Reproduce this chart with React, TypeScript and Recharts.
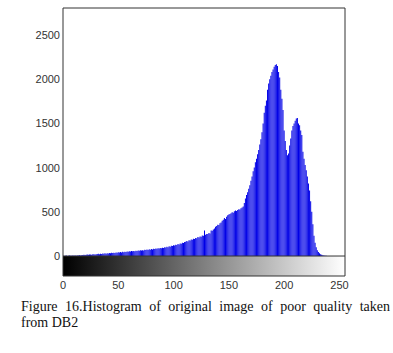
import { Bar, BarChart, ReferenceArea, ReferenceLine, XAxis, YAxis } from "recharts";

// histogram counts per gray level (0..255)
const shadowCounts = [
  3, 0, 2, 5, 1, 4, 6, 3, 2, 5, 4, 7, 3, 6, 5, 8, 6, 9, 12, 14, 11, 15, 17, 13, 16, 18, 15, 19, 21, 17, 20,
]; // 0-30
const lowCounts = [
  22, 25, 21, 27, 24, 28, 26, 30, 27, 32, 29, 34, 31, 36, 33, 38, 35, 40, 37, 42,
  41, 45, 39, 47, 44, 49, 46, 52, 48, 54, 50, 56, 53, 58, 55, 60, 57, 62, 59, 64,
  61, 66, 63, 70, 67, 73, 69, 76, 72, 79, 75, 82, 78, 85, 81, 88, 84, 91, 87, 94,
]; // 31-90
const midCounts = [
  92, 99, 96, 104, 100, 110, 106, 116, 112, 121, 118, 128, 124, 135, 130, 142, 138, 150, 146, 158,
  160, 170, 165, 178, 175, 188, 183, 196, 192, 205, 200, 214, 210, 222, 218, 232, 228, 290, 240, 248,
  248, 260, 255, 290, 285, 300, 310, 330, 340, 355, 350, 370, 380, 400, 410, 430, 420, 445, 460, 470,
  475, 485, 495, 490, 505, 515, 510, 520, 530, 525, 540, 550, 560, 600, 650,
]; // 91-165
const peakCounts = [
  690, 720, 760, 800, 850, 900, 960, 1000, 1060, 1100, 1150, 1200, 1260, 1320, 1400,
  1500, 1620, 1700, 1760, 1880, 1950, 2000, 2040, 2080, 2110, 2140, 2160, 2170,
  2150, 2080, 2020, 1880, 1780, 1650, 1420, 1300, 1200, 1140, 1160,
  1250, 1330, 1420, 1470, 1500, 1530, 1555, 1560, 1500, 1480, 1420, 1370,
]; // 166-216
const tailCounts = [
  1180, 1100, 1030, 970, 900, 820, 740, 620, 500, 360, 230, 150, 100, 65, 45, 30, 20, 14, 9, 6, 4, 2, 1, 0,
  0, 0, 0, 0, 0, 0, 0, 0, 0, 0, 0, 0, 0, 0, 0,
]; // 217-255

const counts = [...shadowCounts, ...lowCounts, ...midCounts, ...peakCounts, ...tailCounts];
const data = counts.map((count, level) => ({ level, count }));

const xTicks = [0, 50, 100, 150, 200, 250];
const yTicks = [0, 500, 1000, 1500, 2000, 2500];
const yDomain: [number, number] = [-226, 2805];

const font = '"Liberation Sans", Arial, sans-serif';
const frame = "#333";
const tickStyle = { fontSize: 11, fill: "#333", fontFamily: font };

export default function App() {
  return (
    <div style={{ position: "relative", width: 393, height: 353, background: "#fff" }}>
      <style>{"body{margin:0}"}</style>
      <BarChart
        width={393}
        height={300}
        data={data}
        margin={{ top: 8, right: 48, bottom: 0, left: 3 }}
        barCategoryGap={0}
      >
        <defs>
          <linearGradient id="grayRamp" x1="0" y1="0" x2="1" y2="0">
            <stop offset="0%" stopColor="#000" />
            <stop offset="100%" stopColor="#fff" />
          </linearGradient>
        </defs>
        <XAxis
          xAxisId="b"
          dataKey="level"
          type="number"
          domain={[0, 255]}
          allowDataOverflow
          ticks={xTicks}
          height={24}
          tickLine={false}
          tickSize={0}
          tickMargin={5}
          axisLine={{ stroke: frame }}
          tick={tickStyle}
        />
        <XAxis
          xAxisId="t"
          dataKey="level"
          type="number"
          orientation="top"
          mirror
          domain={[0, 255]}
          allowDataOverflow
          ticks={xTicks}
          height={1}
          tickSize={4}
          tick={false}
          stroke={frame}
        />
        <YAxis
          yAxisId="l"
          type="number"
          domain={yDomain}
          allowDataOverflow
          ticks={yTicks}
          width={60}
          tickLine={false}
          tickSize={0}
          tickMargin={3}
          axisLine={{ stroke: frame }}
          tick={tickStyle}
        />
        <YAxis
          yAxisId="li"
          type="number"
          orientation="left"
          mirror
          domain={yDomain}
          allowDataOverflow
          ticks={yTicks}
          width={1}
          tickSize={4}
          tick={false}
          axisLine={false}
          stroke={frame}
        />
        <YAxis
          yAxisId="r"
          type="number"
          orientation="right"
          mirror
          domain={yDomain}
          allowDataOverflow
          ticks={yTicks}
          width={1}
          tickSize={4}
          tick={false}
          stroke={frame}
        />
        <ReferenceArea
          xAxisId="b"
          yAxisId="l"
          x1={0}
          x2={255}
          y1={yDomain[0]}
          y2={0}
          fill="url(#grayRamp)"
          fillOpacity={1}
          stroke="none"
        />
        <ReferenceLine xAxisId="b" yAxisId="l" y={0} stroke={frame} />
        <Bar
          xAxisId="b"
          yAxisId="l"
          dataKey="count"
          fill="#0000e6"
          barSize={1}
          isAnimationActive={false}
        />
      </BarChart>
      <div
        style={{
          position: "absolute",
          left: 21,
          top: 299,
          width: 369,
          fontFamily: '"Liberation Serif", "Times New Roman", serif',
          fontSize: 14,
          lineHeight: "16px",
          color: "#111",
        }}
      >
        <div style={{ textAlign: "justify", textAlignLast: "justify", whiteSpace: "nowrap" as const }}>
          Figure&nbsp; 16.Histogram&nbsp; of&nbsp; original&nbsp; image&nbsp; of&nbsp; poor&nbsp; quality&nbsp; taken
        </div>
        <div>from DB2</div>
      </div>
    </div>
  );
}
